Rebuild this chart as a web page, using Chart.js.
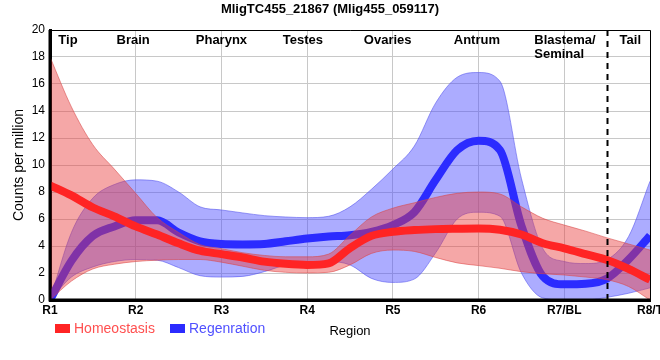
<!DOCTYPE html>
<html><head><meta charset="utf-8">
<script src="https://cdn.jsdelivr.net/npm/chart.js@4/dist/chart.umd.min.js"></script>
<style>html,body{margin:0;padding:0;background:#fff}#wrap{width:660px;height:360px}</style>
</head><body><div id="wrap"><canvas id="c" width="660" height="360"></canvas></div>
<script>
const chartTitle = 'MligTC455_21867 (Mlig455_059117)';
const xTickLabels = ['R1','R2','R3','R4','R5','R6','R7/BL','R8/T'];
const samplePos = [0,0.25,0.5,0.75,1,1.25,1.5,1.75,2,2.25,2.5,2.75,3,3.25,3.5,3.75,4,4.25,4.5,4.75,5,5.25,5.5,5.75,6,6.25,6.5,6.75,7];
const homeoMean  = [8.5,7.75,6.85,6.2,5.45,4.85,4.2,3.65,3.4,3.15,2.84,2.68,2.6,2.72,3.85,4.75,5.05,5.18,5.25,5.28,5.3,5.2,4.85,4.2,3.83,3.4,2.96,2.3,1.5];
const homeoUpper = [18,14.3,11.5,9.7,7.9,6.1,5.0,4.1,3.8,3.5,3.3,3.2,3.2,3.4,4.8,6.15,6.8,7.2,7.6,7.9,8.0,7.85,6.9,6.05,5.55,5.1,4.6,4.15,3.7];
const homeoLower = [0,1.4,2.3,2.65,2.85,2.95,3.0,3.0,2.8,2.5,2.2,2.05,2.0,2.05,2.6,3.45,3.7,3.6,3.15,2.75,2.55,2.35,2.1,1.95,1.85,1.7,1.5,1.0,0];
const regenMean  = [0,2.9,4.75,5.45,5.9,5.9,5.0,4.35,4.15,4.12,4.15,4.35,4.55,4.7,4.8,5.05,5.55,6.5,8.9,11.1,11.8,11.1,5.5,1.75,1.16,1.2,1.6,3.0,4.77];
const regenUpper = [0,5.0,7.55,8.55,8.9,8.8,8.0,6.9,6.67,6.45,6.25,6.15,6.1,6.2,6.9,8.2,9.7,11.4,14.6,16.5,16.85,16.2,9.0,3.8,2.85,2.7,3.0,4.7,8.8];
const regenLower = [0,1.7,2.45,2.85,3.0,2.95,2.4,1.8,1.7,1.75,2.1,2.6,2.85,2.85,2.6,1.6,1.3,1.55,3.5,6.0,6.5,6.2,2.0,0.15,0,0,0.2,0.5,0.9];
const regionNames = ['Tip','Brain','Pharynx','Testes','Ovaries','Antrum',['Blastema/','Seminal'],'Tail'];
const regionAnchors = [0.21,0.97,2.0,2.95,3.94,4.98,5.65,6.77];
const tailBoundary = 6.5;

const pts = arr => arr.map((v,i)=>({x:samplePos[i], y:v}));
const RED='#ff2424', BLUE='#2b2bff';
const line = (label, data, color, w, fill, bg) => ({
  label, data: pts(data), borderColor: color, borderWidth: w, pointRadius: 0,
  cubicInterpolationMode: 'monotone', fill: fill || false, backgroundColor: bg || 'transparent'
});

const overlay = {
  id: 'overlay',
  afterDatasetsDraw(chart) {
    const {ctx, chartArea: a, scales: {x}} = chart;
    ctx.save();
    const dx = Math.round(x.getPixelForValue(tailBoundary)) + 0.5;
    ctx.strokeStyle = '#000'; ctx.lineWidth = 2; ctx.setLineDash([6,5]);
    ctx.beginPath(); ctx.moveTo(dx, a.top); ctx.lineTo(dx, a.bottom); ctx.stroke();
    ctx.setLineDash([]); ctx.lineWidth = 1;
    ctx.beginPath(); ctx.moveTo(a.left, a.top + 0.5); ctx.lineTo(a.right + 0.5, a.top + 0.5);
    ctx.lineTo(a.right + 0.5, a.bottom); ctx.stroke();
    ctx.lineWidth = 3;
    ctx.beginPath(); ctx.moveTo(a.left, a.top); ctx.lineTo(a.left, a.bottom);
    ctx.lineTo(a.right + 1, a.bottom); ctx.stroke();
    ctx.fillStyle = '#000'; ctx.font = 'bold 13px "Liberation Sans", Arial, sans-serif';
    ctx.textBaseline = 'middle';
    regionNames.forEach((n,i) => {
      const px = x.getPixelForValue(regionAnchors[i]);
      if (Array.isArray(n)) {
        ctx.textAlign = 'left';
        n.forEach((s,j) => ctx.fillText(s, px, 40 + j*14));
      } else {
        ctx.textAlign = 'center'; ctx.fillText(n, px, 40);
      }
    });
    ctx.font = 'bold 13px "Liberation Sans", Arial, sans-serif';
    ctx.textAlign = 'center';
    ctx.fillText(chartTitle, 330, 9);
    // legend
    ctx.font = '14px "Liberation Sans", Arial, sans-serif';
    ctx.textAlign = 'left';
    const items = [[chart.data.datasets[0], '#ff5050', 55], [chart.data.datasets[3], '#5050ff', 170]];
    items.forEach(([ds, tc, lx]) => {
      ctx.fillStyle = ds.borderColor; ctx.fillRect(lx, 324, 15, 9);
      ctx.fillStyle = tc; ctx.fillText(ds.label, lx + 19, 329);
    });
    ctx.restore();
  }
};

new Chart(document.getElementById('c'), {
  type: 'line',
  data: { datasets: [
    line('Homeostasis', homeoMean, RED, 8),
    line('Homeostasis upper', homeoUpper, 'rgba(215,70,70,0.55)', 1, '+1', 'rgba(232,60,60,0.45)'),
    line('Homeostasis lower', homeoLower, 'rgba(215,70,70,0.55)', 1),
    line('Regenration', regenMean, BLUE, 8),
    line('Regenration upper', regenUpper, 'rgba(80,80,235,0.55)', 1, '+1', 'rgba(70,70,255,0.45)'),
    line('Regenration lower', regenLower, 'rgba(80,80,235,0.55)', 1)
  ]},
  options: {
    responsive: false, animation: false, devicePixelRatio: 1,
    layout: { padding: { top: 30, right: 10, left: 0, bottom: 0 } },
    plugins: { legend: { display: false }, tooltip: { enabled: false } },
    scales: {
      x: {
        type: 'linear', min: 0, max: 7,
        ticks: { stepSize: 1, autoSkip: false, maxRotation: 0, padding: 3, color: '#000',
          font: { family: '"Liberation Sans", Arial, sans-serif', size: 12, weight: 'bold' },
          callback: v => xTickLabels[v] },
        grid: { color: '#c8c8c8', drawTicks: false },
        border: { color: '#000', width: 3 },
        title: { display: true, text: 'Region', color: '#000',
          font: { family: '"Liberation Sans", Arial, sans-serif', size: 13 }, padding: { top: 4, bottom: 21 } },
        afterFit: s => { s.height = 60; s.paddingLeft = 0; s.paddingRight = 0; }
      },
      y: {
        min: 0, max: 20,
        ticks: { stepSize: 2, padding: 5, color: '#000',
          font: { family: '"Liberation Sans", Arial, sans-serif', size: 12 } },
        grid: { color: '#c8c8c8', drawTicks: false },
        border: { color: '#000', width: 3 },
        title: { display: true, text: 'Counts per million', color: '#000',
          font: { family: '"Liberation Sans", Arial, sans-serif', size: 14 }, padding: { top: 11, bottom: 0 } },
        afterFit: s => { s.width = 50; }
      }
    }
  },
  plugins: [overlay]
});
</script></body></html>
